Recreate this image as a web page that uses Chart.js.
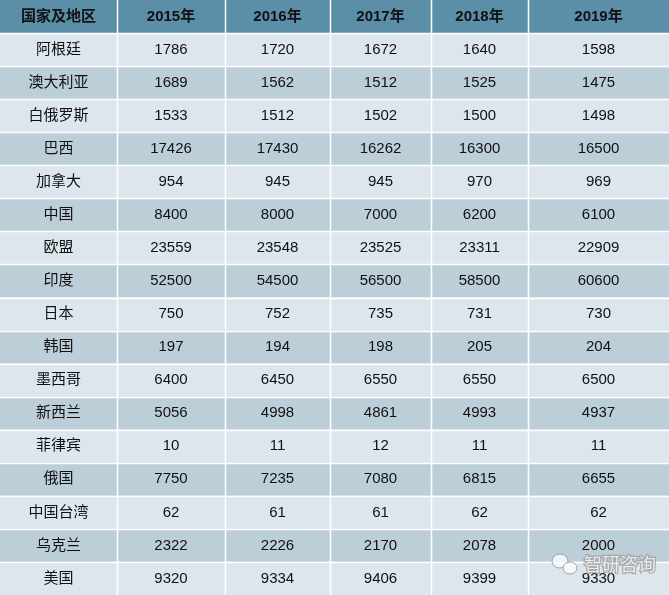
<!DOCTYPE html>
<html><head><meta charset="utf-8">
<script src="https://cdn.jsdelivr.net/npm/chart.js@4/dist/chart.umd.min.js"></script>
<style>html,body{margin:0;padding:0;background:#fff}#wrap{width:669px;height:595px}</style>
</head><body><div id="wrap"><canvas id="c"></canvas></div>
<script>
var headers = ['国家及地区', '2015年', '2016年', '2017年', '2018年', '2019年'];
var regions = ['阿根廷','澳大利亚','白俄罗斯','巴西','加拿大','中国','欧盟','印度','日本','韩国','墨西哥','新西兰','菲律宾','俄国','中国台湾','乌克兰','美国'];
var y2015 = [1786,1689,1533,17426,954,8400,23559,52500,750,197,6400,5056,10,7750,62,2322,9320];
var y2016 = [1720,1562,1512,17430,945,8000,23548,54500,752,194,6450,4998,11,7235,61,2226,9334];
var y2017 = [1672,1512,1502,16262,945,7000,23525,56500,735,198,6550,4861,12,7080,61,2170,9406];
var y2018 = [1640,1525,1500,16300,970,6200,23311,58500,731,205,6550,4993,11,6815,62,2078,9399];
var y2019 = [1598,1475,1498,16500,969,6100,22909,60600,730,204,6500,4937,11,6655,62,2000,9330];
var series = [y2015, y2016, y2017, y2018, y2019];

// column edges in x-scale units (pixel-like widths)
var colEdges = [0, 117, 225, 330, 431, 528, 669];

var tablePlugin = {
  id: 'table',
  beforeDatasetsDraw: function(chart) {
    var ctx = chart.ctx, xs = chart.scales.x, ys = chart.scales.y;
    var nRows = regions.length + 1;
    for (var r = 0; r < nRows; r++) {
      var top = ys.getPixelForValue(r), bot = ys.getPixelForValue(r + 1);
      for (var c = 0; c < headers.length; c++) {
        var l = xs.getPixelForValue(colEdges[c]), rr = xs.getPixelForValue(colEdges[c + 1]);
        ctx.fillStyle = r === 0 ? '#5b8fa8' : (r % 2 === 1 ? '#dce6ec' : '#bccfd9');
        ctx.fillRect(l, top, rr - l, bot - top);
        var txt = r === 0 ? headers[c] : (c === 0 ? regions[r - 1] : String(series[c - 1][r - 1]));
        ctx.fillStyle = '#111';
        ctx.textAlign = 'center';
        ctx.textBaseline = 'middle';
        ctx.font = (r === 0 ? 'bold ' : '') + '15px "Liberation Sans","Noto Sans CJK SC",sans-serif';
        ctx.fillText(txt, (l + rr) / 2, (top + bot) / 2);
      }
    }
    // white grid lines
    ctx.strokeStyle = '#ffffff';
    ctx.lineWidth = 1.5;
    ctx.beginPath();
    for (var k = 1; k < colEdges.length - 1; k++) {
      var x = Math.round(xs.getPixelForValue(colEdges[k])) + 0.5;
      ctx.moveTo(x, ys.getPixelForValue(0)); ctx.lineTo(x, ys.getPixelForValue(nRows));
    }
    for (var j = 1; j < nRows; j++) {
      var y = Math.round(ys.getPixelForValue(j)) + 0.5;
      ctx.moveTo(xs.getPixelForValue(0), y); ctx.lineTo(xs.getPixelForValue(669), y);
    }
    ctx.stroke();
    // watermark
    ctx.save();
    ctx.globalAlpha = 0.75;
    ctx.fillStyle = '#fff';
    ctx.strokeStyle = '#888';
    ctx.lineWidth = 1;
    ctx.beginPath(); ctx.ellipse(560, 561, 8, 7, 0, 0, Math.PI * 2); ctx.fill(); ctx.stroke();
    ctx.beginPath(); ctx.ellipse(570, 568, 7, 6, 0, 0, Math.PI * 2); ctx.fill(); ctx.stroke();
    ctx.fillStyle = '#fff';
    ctx.font = '18px "Noto Sans CJK SC",sans-serif';
    ctx.textAlign = 'left';
    ctx.lineWidth = 2.5; ctx.strokeStyle = '#999';
    ctx.strokeText('智研咨询', 584, 564);
    ctx.fillText('智研咨询', 584, 564);
    ctx.restore();
  }
};

new Chart(document.getElementById('c'), {
  type: 'scatter',
  data: { datasets: [{ data: [], pointRadius: 0 }] },
  options: {
    responsive: true, maintainAspectRatio: false, animation: false,
    layout: { padding: 0 },
    plugins: { legend: { display: false }, tooltip: { enabled: false } },
    scales: {
      x: { type: 'linear', min: 0, max: 669, display: false },
      y: { type: 'linear', min: 0, max: regions.length + 1, reverse: true, display: false }
    }
  },
  plugins: [tablePlugin]
});
</script></body></html>
